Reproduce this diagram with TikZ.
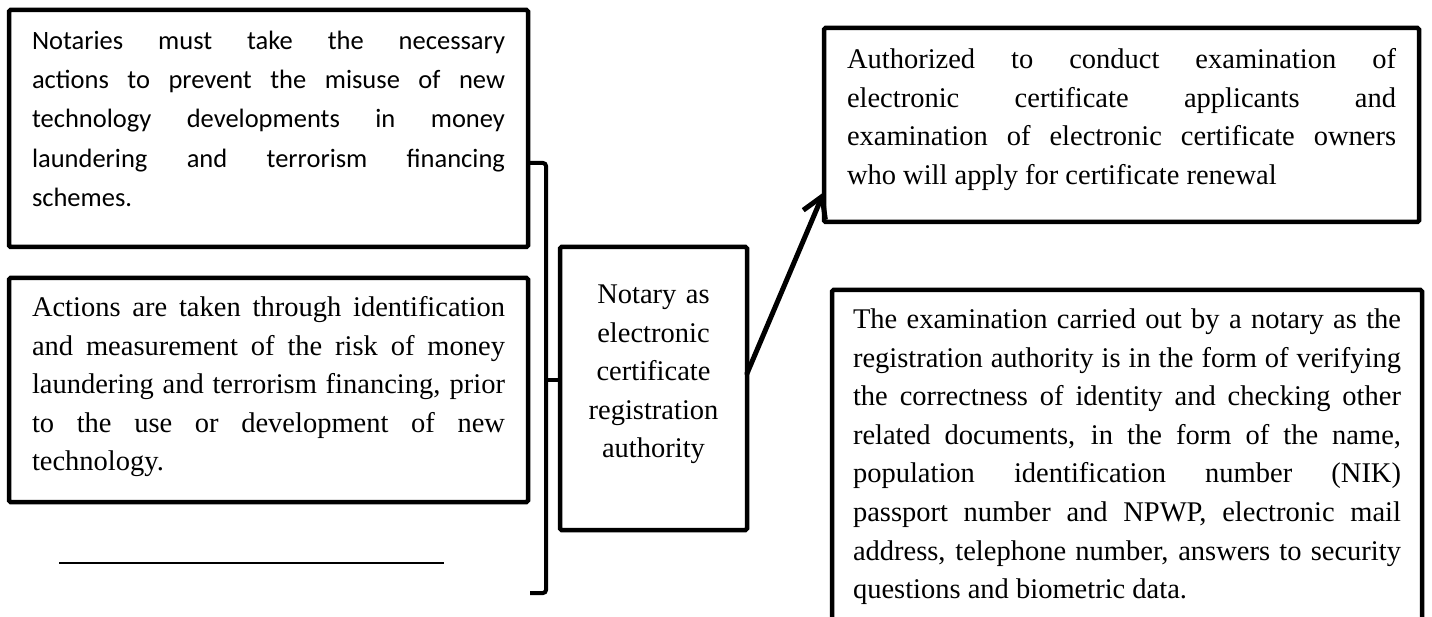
\documentclass[tikz,border=0pt]{standalone}
\usepackage{fontspec}
\setmainfont{Liberation Serif}
\newfontfamily\carlito{Carlito}
\usepackage{tikz}
\usetikzlibrary{arrows.meta, positioning, calc}
\hyphenpenalty=10000
\exhyphenpenalty=10000
\tolerance=10000

\begin{document}
\begin{tikzpicture}[x=1pt, y=-1pt, >={Straight Barb[length=20pt, width=24pt]},
    box/.style={draw, line width=4.5pt, rounded corners=1.5pt, outer sep=0pt, inner ysep=0pt, anchor=north west, align=justify},
    serif/.style={font=\fontsize{28.5}{38.6}\selectfont},
    sans/.style={font=\carlito\fontsize{26.5}{39.2}\selectfont},
    bracket/.style={line width=4pt, rounded corners=3pt}]
    %\draw[step=50, gray!30, very thin] (0,0) grid (1432,617);
    \useasboundingbox (0,0) rectangle (1432,617);
    \clip (0,0) rectangle (1432,617);

    \node[box, sans, inner xsep=23pt, text width=473pt, text height=39.5pt, text depth=197.5pt] (misuse) at (9,10)
        {Notaries must take the necessary\linebreak actions to prevent the misuse of new\linebreak technology developments in money\linebreak laundering and terrorism financing\linebreak schemes.};
    \node[box, serif, inner xsep=23pt, text width=473pt, text height=38.6pt, text depth=185.4pt] (measure) at (9,278)
        {Actions are taken through identification\linebreak and measurement of the risk of money\linebreak laundering and terrorism financing, prior\linebreak to the use or development of new\linebreak technology.};
    \node[box, serif, align=center, inner xsep=0pt, text width=187pt, text height=56.6pt, text depth=226.4pt] (reg) at (560,247)
        {Notary as\\ electronic\\ certificate\\ registration\\ authority};
    \node[box, serif, inner xsep=23pt, text width=549pt, text height=40.6pt, text depth=153.4pt] (examine) at (824,28)
        {Authorized to conduct examination of\linebreak electronic certificate applicants and\linebreak examination of electronic certificate owners\linebreak who will apply for certificate renewal};
    \node[box, serif, inner xsep=21pt, text width=548pt, text height=38.6pt, text depth=360pt] (verify) at (832,290)
        {The examination carried out by a notary as the\linebreak registration authority is in the form of verifying\linebreak the correctness of identity and checking other\linebreak related documents, in the form of the name,\linebreak population identification number (NIK)\linebreak passport number and NPWP, electronic mail\linebreak address, telephone number, answers to security\linebreak questions and biometric data.};

    \coordinate (brace top) at (530,163);
    \coordinate (brace bot) at (530,593);
    \coordinate (brace mid) at (546,380);
    \draw[bracket] (brace top) -- ++(16,0) |- (brace bot);
    \draw[bracket] (brace mid) -- (brace mid -| reg.west);

    \draw[->, line width=5pt, line cap=round] ($(reg.east)+(0,-15)$) -- ($(examine.south west)+(0,-30)$);

    \draw[line width=2pt] (59,563) -- (444,563);

  \end{tikzpicture}
\end{document}
